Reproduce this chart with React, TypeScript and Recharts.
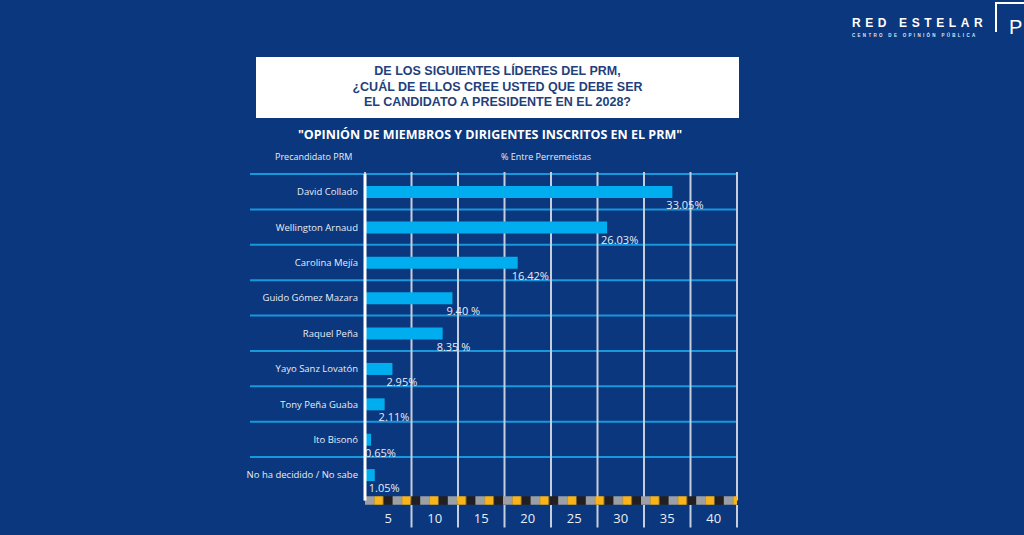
import React from 'react'
import { BarChart, Bar, XAxis, YAxis, CartesianGrid, LabelList } from 'recharts'

const candidates = [
  'David Collado',
  'Wellington Arnaud',
  'Carolina Mejía',
  'Guido Gómez Mazara',
  'Raquel Peña',
  'Yayo Sanz Lovatón',
  'Tony Peña Guaba',
  'Ito Bisonó',
  'No ha decidido / No sabe',
]
const shares = [33.05, 26.03, 16.42, 9.4, 8.35, 2.95, 2.11, 0.65, 1.05]
const shareLabels = ['33.05%', '26.03%', '16.42%', '9.40 %', '8.35 %', '2.95%', '2.11%', '0.65%', '1.05%']
const xTicks = [5, 10, 15, 20, 25, 30, 35, 40]

const titleLines = [
  'DE LOS SIGUIENTES LÍDERES DEL PRM,',
  '¿CUÁL DE ELLOS CREE USTED QUE DEBE SER',
  'EL CANDIDATO A PRESIDENTE EN EL 2028?',
]

const data = candidates.map((name, i) => ({ name, share: shares[i], label: shareLabels[i] }))

const W = 1024
const H = 535
const PLOT_LEFT = 365
const PLOT_RIGHT = 737
const PLOT_TOP = 174
const PLOT_BOTTOM = 500.5
const Y_PAD = 8
const X_MAX = 40
const halfStep = ((PLOT_RIGHT - PLOT_LEFT) / X_MAX) * 2.5

const BG = '#0a377d'
const TEXT = '#e8edf6'
const GRID_V = '#c5cedd'
const GRID_H = '#1798dd'
const FONT = '"Open Sans", "Noto Sans", sans-serif'

function CandidateTick({ x, y, payload }: any) {
  return (
    <text x={x - 7} y={y} dy={3.5} textAnchor="end" fill={TEXT} fontSize={9.5} fontFamily={FONT}>
      {payload.value}
    </text>
  )
}

function ValueTick({ x, y, payload }: any) {
  return (
    <g>
      <line x1={x} x2={x} y1={y + 4.5} y2={y + 27} stroke={GRID_V} strokeWidth={2} />
      <text x={x - halfStep} y={y + 22} textAnchor="middle" fill={TEXT} fontSize={13} fontFamily={FONT}>
        {payload.value}
      </text>
    </g>
  )
}

function ShareLabel({ x, y, width, height, value }: any) {
  return (
    <text x={x + width - 6} y={y + height / 2 + 17} fill={TEXT} fontSize={11} fontFamily={FONT}>
      {value}
    </text>
  )
}

export default function App() {
  return (
    <div style={{ position: 'fixed', left: 0, top: 0, width: W, height: H, background: BG, overflow: 'hidden', fontFamily: FONT }}>
      <BarChart
        width={W}
        height={H}
        data={data}
        layout="vertical"
        margin={{ top: PLOT_TOP, right: W - PLOT_RIGHT, bottom: 0, left: 0 }}
      >
        <defs>
          <pattern id="stripe" patternUnits="userSpaceOnUse" x={PLOT_LEFT} y={0} width={27.6} height={H}>
            <rect x={0} y={0} width={9.2} height={H} fill="#9c9fa4" />
            <rect x={9.2} y={0} width={9.2} height={H} fill="#fbb417" />
            <rect x={18.4} y={0} width={9.2} height={H} fill="#231f20" />
          </pattern>
        </defs>
        <CartesianGrid
          vertical={false}
          x={250}
          width={PLOT_RIGHT - 250}
          stroke={GRID_H}
          strokeWidth={2}
          horizontalCoordinatesGenerator={({ offset }: any) =>
            candidates.map((_, i) => offset.top + (i * (offset.height - Y_PAD)) / candidates.length)
          }
        />
        <CartesianGrid horizontal={false} y={172} height={PLOT_BOTTOM - 172} stroke={GRID_V} strokeWidth={2} />
        <XAxis
          type="number"
          domain={[0, X_MAX]}
          ticks={xTicks}
          interval={0}
          height={H - PLOT_BOTTOM}
          tickLine={false}
          tickSize={0}
          tickMargin={0}
          tick={<ValueTick />}
          axisLine={{ stroke: 'url(#stripe)', strokeWidth: 8.5 }}
        />
        <YAxis
          type="category"
          dataKey="name"
          width={PLOT_LEFT}
          interval={0}
          padding={{ top: 0, bottom: Y_PAD }}
          tickLine={false}
          tickSize={0}
          tickMargin={0}
          tick={<CandidateTick />}
          axisLine={{ stroke: '#ffffff', strokeWidth: 3 }}
        />
        <Bar dataKey="share" fill="#00aeef" barSize={12} isAnimationActive={false}>
          <LabelList dataKey="label" content={<ShareLabel />} />
        </Bar>
      </BarChart>

      {/* title box */}
      <div
        style={{
          position: 'absolute', left: 256, top: 57, width: 483, height: 61, background: '#ffffff',
          boxSizing: 'border-box', paddingTop: 7, textAlign: 'center', color: '#233f7b',
          fontFamily: '"Liberation Sans", Arial, sans-serif', fontWeight: 700, fontSize: 12.5, lineHeight: '15.5px',
        }}
      >
        {titleLines.map((t) => (
          <div key={t}>{t}</div>
        ))}
      </div>

      <div style={{ position: 'absolute', left: 240, top: 127, width: 500, textAlign: 'center', color: '#ffffff', fontWeight: 700, fontSize: 12.5, lineHeight: '16px' }}>
        "OPINIÓN DE MIEMBROS Y DIRIGENTES INSCRITOS EN EL PRM"
      </div>

      <div style={{ position: 'absolute', left: 275, top: 151, color: TEXT, fontSize: 9, lineHeight: '12px' }}>Precandidato PRM</div>
      <div style={{ position: 'absolute', left: 446, top: 151, width: 200, textAlign: 'center', color: TEXT, fontSize: 9, lineHeight: '12px' }}>
        % Entre Perremeistas
      </div>

      {/* logo */}
      <div style={{ position: 'absolute', left: 852, top: 15, color: '#ffffff', fontFamily: '"Liberation Sans", Arial, sans-serif', fontWeight: 700, fontSize: 12, letterSpacing: 4.6, lineHeight: '16px', whiteSpace: 'nowrap' }}>
        RED ESTELAR
      </div>
      <div style={{ position: 'absolute', left: 852, top: 33, color: '#dfe6f2', fontFamily: '"Liberation Sans", Arial, sans-serif', fontWeight: 700, fontSize: 4.5, letterSpacing: 2.3, lineHeight: '6px', whiteSpace: 'nowrap' }}>
        CENTRO DE OPINIÓN PÚBLICA
      </div>
      <div style={{ position: 'absolute', left: 995, top: 2, width: 40, height: 28, borderLeft: '2px solid #ffffff', borderTop: '2px solid #ffffff' }} />
      <div style={{ position: 'absolute', left: 1009, top: 16, color: '#ffffff', fontFamily: '"Liberation Sans", Arial, sans-serif', fontSize: 20, lineHeight: '22px' }}>P</div>
    </div>
  )
}
